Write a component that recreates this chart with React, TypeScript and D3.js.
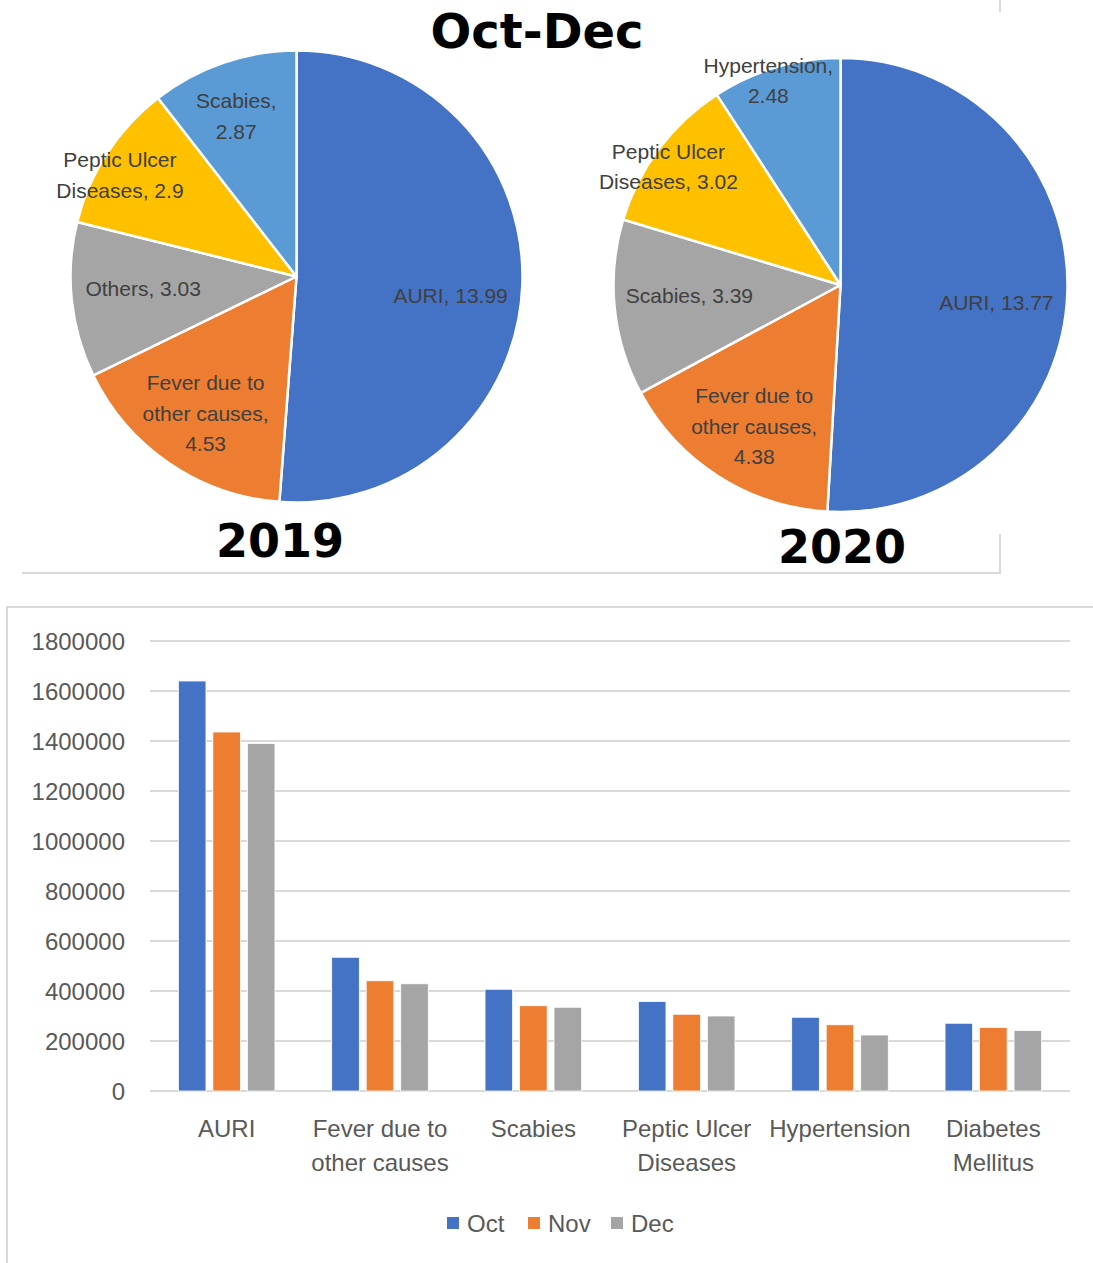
import React from "react";
import * as d3 from "d3";

// ---------- data ----------
const pieNames2019 = ["AURI", "Fever due to other causes", "Others", "Peptic Ulcer Diseases", "Scabies"];
const pieValues2019 = [13.99, 4.53, 3.03, 2.9, 2.87];
const pieNames2020 = ["AURI", "Fever due to other causes", "Scabies", "Peptic Ulcer Diseases", "Hypertension"];
const pieValues2020 = [13.77, 4.38, 3.39, 3.02, 2.48];
const pieColors = ["#4472C4", "#ED7D31", "#A5A5A5", "#FFC000", "#5B9BD5"];

const categories = ["AURI", "Fever due to other causes", "Scabies", "Peptic Ulcer Diseases", "Hypertension", "Diabetes Mellitus"];
const categoryLines = [["AURI"], ["Fever due to", "other causes"], ["Scabies"], ["Peptic Ulcer", "Diseases"], ["Hypertension"], ["Diabetes", "Mellitus"]];
const octValues = [1640000, 535000, 407000, 358000, 295000, 271000];
const novValues = [1436000, 441000, 341000, 307000, 265000, 254000];
const decValues = [1390000, 429000, 335000, 300000, 224000, 242000];
const seriesNames = ["Oct", "Nov", "Dec"];
const seriesColors = ["#4472C4", "#ED7D31", "#A5A5A5"];
const yTicks = [0, 200000, 400000, 600000, 800000, 1000000, 1200000, 1400000, 1600000, 1800000];

// label line breaks (layout)
const wrap2019 = [["AURI, {v}"], ["Fever due to", "other causes,", "{v}"], ["Others, {v}"], ["Peptic Ulcer", "Diseases, {v}"], ["Scabies,", "{v}"]];
const wrap2020 = [["AURI, {v}"], ["Fever due to", "other causes,", "{v}"], ["Scabies, {v}"], ["Peptic Ulcer", "Diseases, {v}"], ["Hypertension,", "{v}"]];
const nudge2019 = [[-4, 13], [-2, 6], [4, -5], [-44, -15], [-9, -11]];
const nudge2020 = [[-3, 13], [-1, 7], [7, -6], [-45, -23], [-27, -52]];

const labelFont = "'Liberation Sans', Arial, sans-serif";

function Pie({ cx, cy, r, names, values, wraps, nudges }) {
  const data = names.map((n, i) => ({ name: n, value: values[i], i }));
  const arcs = d3.pie().sort(null).value((d) => d.value)(data);
  const arcGen = d3.arc().innerRadius(0).outerRadius(r);
  const labelArc = d3.arc().innerRadius(r * 0.7).outerRadius(r * 0.7);
  const lh = 30.5;
  return (
    <g transform={`translate(${cx},${cy})`}>
      {arcs.map((a, i) => (
        <path key={i} d={arcGen(a)} fill={pieColors[i]} stroke="#fff" strokeWidth={2.5} strokeLinejoin="round" />
      ))}
      {arcs.map((a, i) => {
        const [x, y] = labelArc.centroid(a);
        const lines = wraps[i].map((t) => t.replace("{v}", String(values[i])));
        const bx = x + nudges[i][0];
        const by = y + nudges[i][1] - ((lines.length - 1) * lh) / 2;
        return (
          <text key={i} x={bx} y={by} textAnchor="middle" fontFamily={labelFont} fontSize={21} fill="#404040">
            {lines.map((l, k) => (
              <tspan key={k} x={bx} y={by + k * lh} dominantBaseline="central">{l}</tspan>
            ))}
          </text>
        );
      })}
    </g>
  );
}

export default function App() {
  const W = 1093, H = 1263;
  // bar chart scales
  const x0 = d3.scaleBand().domain(categories).range([150, 1070]).paddingInner(0.37).paddingOuter(0.185);
  const x1 = d3.scaleBand().domain(seriesNames).range([0, x0.bandwidth()]).paddingInner(0.2);
  const y = d3.scaleLinear().domain([0, 1800000]).range([1091, 641]);
  const series = [octValues, novValues, decValues];
  const tickFont = "'Liberation Sans', Arial, sans-serif";
  const legendItems = [{ x: 447 }, { x: 528 }, { x: 611 }];

  return (
    <svg width={W} height={H} style={{ position: "absolute", left: 0, top: 0, background: "#fff" }}>
      <rect x={0} y={0} width={W} height={H} fill="#fff" />
      {/* top box borders */}
      <line x1={22} y1={573} x2={1001} y2={573} stroke="#d9d9d9" strokeWidth={2} />
      <line x1={1000} y1={0} x2={1000} y2={12} stroke="#d9d9d9" strokeWidth={2} />
      <line x1={1000} y1={534} x2={1000} y2={574} stroke="#d9d9d9" strokeWidth={2} />

      <Pie cx={296.5} cy={276.5} r={226} names={pieNames2019} values={pieValues2019} wraps={wrap2019} nudges={nudge2019} />
      <Pie cx={840.5} cy={285} r={227} names={pieNames2020} values={pieValues2020} wraps={wrap2020} nudges={nudge2020} />

      <text x={537} y={48} textAnchor="middle" fontFamily="'DejaVu Sans', sans-serif" fontWeight="bold" fontSize={48} fill="#000">Oct-Dec</text>
      <text x={280} y={557} textAnchor="middle" fontFamily="'DejaVu Sans', sans-serif" fontWeight="bold" fontSize={46} fill="#000">2019</text>
      <text x={842} y={563} textAnchor="middle" fontFamily="'DejaVu Sans', sans-serif" fontWeight="bold" fontSize={46} fill="#000">2020</text>

      {/* bottom chart box */}
      <rect x={7} y={607} width={W + 10} height={H} fill="none" stroke="#d9d9d9" strokeWidth={2} />

      {/* grid + y ticks */}
      {yTicks.map((t) => (
        <g key={t}>
          <line x1={150} x2={1070} y1={y(t)} y2={y(t)} stroke="#d9d9d9" strokeWidth={2} />
          <text x={125} y={y(t)} textAnchor="end" dominantBaseline="central" fontFamily={tickFont} fontSize={24} fill="#595959">{t}</text>
        </g>
      ))}

      {/* bars */}
      {categories.map((c, ci) => (
        <g key={c} transform={`translate(${x0(c)},0)`}>
          {series.map((vals, si) => (
            <rect key={si} x={x1(seriesNames[si])} y={y(vals[ci])} width={x1.bandwidth()} height={y(0) - y(vals[ci])} fill={seriesColors[si]} stroke="#fff" strokeWidth={0.8} />
          ))}
        </g>
      ))}

      {/* category labels */}
      {categories.map((c, ci) => (
        <text key={c} textAnchor="middle" fontFamily={tickFont} fontSize={24} fill="#595959">
          {categoryLines[ci].map((l, k) => (
            <tspan key={k} x={x0(c) + x0.bandwidth() / 2} y={1128 + k * 34} dominantBaseline="central">{l}</tspan>
          ))}
        </text>
      ))}

      {/* legend */}
      {seriesNames.map((s, i) => (
        <g key={s}>
          <rect x={legendItems[i].x} y={1217} width={12} height={12} fill={seriesColors[i]} />
          <text x={legendItems[i].x + 20} y={1223} dominantBaseline="central" fontFamily={tickFont} fontSize={24} fill="#595959">{s}</text>
        </g>
      ))}
    </svg>
  );
}
